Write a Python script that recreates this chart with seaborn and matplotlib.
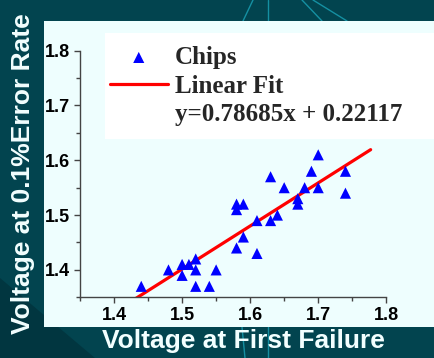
import numpy as np
import pandas as pd
import matplotlib
matplotlib.use("Agg")
import matplotlib.pyplot as plt
from matplotlib.patches import Rectangle, Polygon
from matplotlib.lines import Line2D
from matplotlib.ticker import MultipleLocator
import seaborn as sns

# ---- data ----
first_failure = [1.44, 1.48, 1.50, 1.50, 1.51, 1.52, 1.52, 1.52, 1.54, 1.55,
                 1.58, 1.58, 1.59, 1.58, 1.59, 1.61, 1.61, 1.63, 1.63, 1.64,
                 1.65, 1.67, 1.67, 1.68, 1.69, 1.70, 1.70, 1.74, 1.74]
error_rate = [1.37, 1.40, 1.41, 1.39, 1.41, 1.42, 1.40, 1.37, 1.37, 1.40,
              1.52, 1.51, 1.52, 1.44, 1.46, 1.43, 1.49, 1.57, 1.49, 1.50,
              1.55, 1.53, 1.52, 1.55, 1.58, 1.61, 1.55, 1.58, 1.54]
slope = 0.78685
intercept = 0.22117
fit_range = [1.43, 1.777]
x_ticks = [1.4, 1.5, 1.6, 1.7, 1.8]
y_ticks = [1.4, 1.5, 1.6, 1.7, 1.8]
series_labels = ["Chips", "Linear Fit", "y=0.78685x + 0.22117"]

df = pd.DataFrame({"x": first_failure, "y": error_rate})
fit_x = np.array(fit_range)
fit_df = pd.DataFrame({"x": fit_x, "y": slope * fit_x + intercept})

sns.set_style("ticks")
plt.rcParams["font.family"] = ["Liberation Sans", "DejaVu Sans"]

W, H = 434, 358
fig = plt.figure(figsize=(W / 100, H / 100), dpi=100, facecolor="#02444f")

def fx(px):
    return px / W

def fy(py):
    return 1 - py / H

# background decorations
fig.patches.append(Polygon([[0, fy(278)], [fx(95), 0], [0, 0]], closed=True,
                           transform=fig.transFigure, facecolor="#013640",
                           edgecolor="none", zorder=0))
ray_col = "#1590a2"
for (x0, y0, x1, y1) in [(243, 21, 253, 0), (268, 21, 268, 0), (302, 0, 322, 21),
                         (313, 0, 347, 21), (242, 327, 245, 358), (268, 327, 268, 358)]:
    fig.add_artist(Line2D([fx(x0), fx(x1)], [fy(y0), fy(y1)], transform=fig.transFigure,
                          color=ray_col, lw=1, zorder=0.5))

# light panel
fig.patches.append(Rectangle((fx(44), fy(327)), fx(434) - fx(44), fy(21) - fy(327),
                             transform=fig.transFigure, facecolor="#eefefe",
                             edgecolor="none", zorder=1))
# legend box
fig.patches.append(Rectangle((fx(105), fy(139)), fx(434) - fx(105), fy(33) - fy(139),
                             transform=fig.transFigure, facecolor="white",
                             edgecolor="none", zorder=1.5))

ax = fig.add_axes([fx(80), fy(297.3), fx(386.3) - fx(80), fy(50.7) - fy(297.3)])
ax.set_zorder(2)
ax.patch.set_alpha(0)

sns.scatterplot(data=df, x="x", y="y", marker="^", s=64, color="#0000ff",
                edgecolor="none", linewidth=0, ax=ax, label=series_labels[0], zorder=3)
sns.lineplot(data=fit_df, x="x", y="y", color="#ff0000", linewidth=2.3, ax=ax,
             label=series_labels[1], zorder=2)

ax.set_xlim(1.35, 1.8)
ax.set_ylim(1.35, 1.8)
ax.set_xticks(x_ticks)
ax.set_yticks(y_ticks)
ax.set_xticklabels([f"{t:.1f}" for t in x_ticks])
ax.set_yticklabels([f"{t:.1f}" for t in y_ticks])
ax.xaxis.set_minor_locator(MultipleLocator(0.05))
ax.yaxis.set_minor_locator(MultipleLocator(0.05))
ax.tick_params(which="major", direction="out", length=4, width=1, color="#444444",
               labelsize=13, pad=3, labelcolor="black")
ax.tick_params(which="minor", direction="out", length=3, width=1, color="#444444")
for lab in ax.get_xticklabels() + ax.get_yticklabels():
    lab.set_fontweight("bold")
for s in ["top", "right"]:
    ax.spines[s].set_visible(False)
for s in ["left", "bottom"]:
    ax.spines[s].set_color("#444444")
    ax.spines[s].set_linewidth(1)

ax.set_xlabel("Voltage at First Failure", fontsize=19, fontweight="bold", color="#f2ffff")
ax.set_ylabel("Voltage at 0.1%Error Rate", fontsize=19, fontweight="bold", color="#f2ffff")
ax.xaxis.label.set_va("center")
ax.yaxis.label.set_va("center")
ax.xaxis.set_label_coords((243.5 - 80) / 306.3, (297.3 - 341) / 246.6)
ax.yaxis.set_label_coords((23 - 80) / 306.3, (297.3 - 174) / 246.6)

handles, labels = ax.get_legend_handles_labels()
handles.append(Line2D([], [], linestyle="none"))
labels.append(series_labels[2])
leg = ax.legend(handles, labels, loc="upper left", bbox_to_anchor=(fx(110), fy(46)),
                bbox_transform=fig.transFigure, frameon=False, borderpad=0,
                borderaxespad=0, handlelength=2.3, handletextpad=0.3,
                labelspacing=0.23, markerscale=1.0,
                prop={"family": "Liberation Serif", "weight": "bold", "size": 18})

fig.savefig("out.png", dpi=100, facecolor=fig.get_facecolor())
